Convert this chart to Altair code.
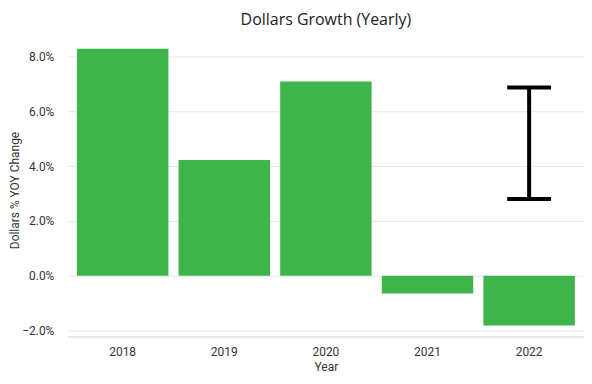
import altair as alt
import pandas as pd

years = ["2018", "2019", "2020", "2021", "2022"]
growth = [0.0829, 0.0422, 0.0709, -0.0065, -0.0182]
err_years = ["2022"]
err_low = [0.0280]
err_high = [0.0687]

bars_df = pd.DataFrame({"Year": years, "Growth": growth})
err_df = pd.DataFrame({"Year": err_years, "low": err_low, "high": err_high})

xscale = alt.Scale(domain=years, paddingInner=0.1, paddingOuter=0.09)
yscale = alt.Scale(domain=[-0.0222, 0.0895], nice=False, zero=False)

x_enc = alt.X("Year:N", scale=xscale, sort=years,
              axis=alt.Axis(title="Year", labelAngle=0, ticks=False, grid=False,
                            domainColor="#c8cdd8", labelPadding=10, titlePadding=4))

bars = alt.Chart(bars_df).mark_bar(color="#3db54a").encode(
    x=x_enc,
    y=alt.Y("Growth:Q", scale=yscale,
            axis=alt.Axis(title="Dollars % YOY Change", format=".1%",
                          values=[-0.02, 0, 0.02, 0.04, 0.06, 0.08],
                          ticks=False, domain=False, gridColor="#e4e4e4",
                          labelPadding=14, titleX=-46, titleY=160,
                          titleAlign="center", titleBaseline="bottom", titleAngle=-90)),
)

rule = alt.Chart(err_df).mark_rule(color="black", strokeWidth=4).encode(
    x=alt.X("Year:N", scale=xscale, sort=years),
    y=alt.Y("low:Q", scale=yscale),
    y2="high:Q",
)
cap_low = alt.Chart(err_df).mark_tick(color="black", thickness=4, size=44, opacity=1).encode(
    x=alt.X("Year:N", scale=xscale, sort=years),
    y=alt.Y("low:Q", scale=yscale),
)
cap_high = alt.Chart(err_df).mark_tick(color="black", thickness=4, size=44, opacity=1).encode(
    x=alt.X("Year:N", scale=xscale, sort=years),
    y=alt.Y("high:Q", scale=yscale),
)

chart = alt.layer(bars, rule, cap_low, cap_high).properties(
    width=518, height=307,
    title=alt.TitleParams("Dollars Growth (Yearly)", font="Open Sans", fontSize=16,
                          fontWeight="normal", color="#202124", offset=3),
    autosize=alt.AutoSizeParams(type="none"),
    padding={"left": 60, "top": 22, "right": 0, "bottom": 38},
).configure_view(stroke=None).configure_axis(
    labelFont="Roboto", titleFont="Roboto", labelFontSize=12, titleFontSize=12,
    labelColor="#333333", titleColor="#333333", titleFontWeight="normal",
)

chart.save("out.html", embed_options={"renderer": "svg", "actions": False})
